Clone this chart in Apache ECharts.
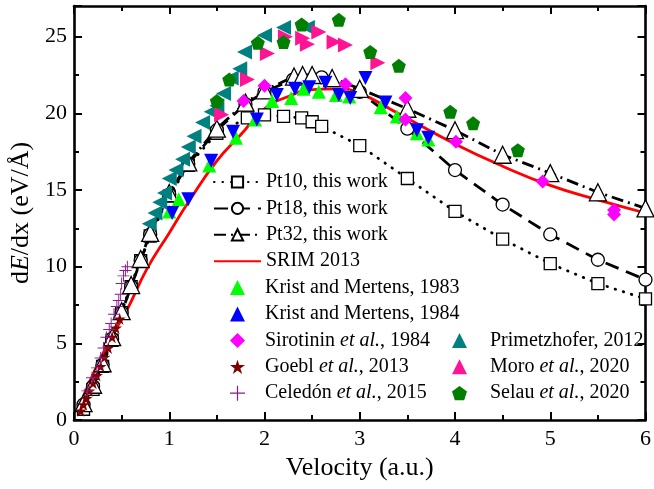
<!DOCTYPE html>
<html>
<head>
<meta charset="utf-8">
<script src="https://cdn.jsdelivr.net/npm/echarts@6/dist/echarts.min.js"></script>
<style>html,body{margin:0;padding:0;background:#fff;}#c{width:654px;height:489px;}</style>
</head>
<body>
<div id="c"></div>
<script>
// ---- data ----
const xTicks = [0, 1, 2, 3, 4, 5, 6];
const yTicks = [0, 5, 10, 15, 20, 25];

const pt10X = [0.1,0.2,0.3,0.4,0.5,0.6,0.7,0.8,1.0,1.2,1.5,1.82,2.0,2.2,2.39,2.5,2.6,3.0,3.5,4.0,4.5,5.0,5.5,6.0];
const pt10Y = [0.7,2.0,3.5,5.2,7.0,8.7,10.4,12.0,14.6,16.6,18.7,19.7,19.9,19.8,19.7,19.45,19.15,17.9,15.75,13.6,11.8,10.2,8.9,7.9];

const pt18X = [0.1,0.2,0.3,0.4,0.5,0.6,0.7,0.8,1.0,1.2,1.5,1.8,2.0,2.3,2.6,3.0,3.5,4.0,4.5,5.0,5.5,6.0];
const pt18Y = [1.0,2.2,3.6,5.3,7.0,8.7,10.4,12.1,14.7,16.7,18.9,20.6,21.4,22.2,22.35,21.4,19.0,16.3,14.05,12.1,10.45,9.15];

const pt32X = [0.1,0.2,0.3,0.4,0.5,0.6,0.7,0.8,1.0,1.2,1.5,1.8,2.0,2.31,2.4,2.5,2.71,3.0,3.5,4.0,4.5,5.0,5.5,6.0];
const pt32Y = [1.1,2.3,3.7,5.4,7.1,8.8,10.5,12.2,14.8,16.8,19.0,20.7,21.5,22.4,22.5,22.5,22.3,21.6,20.3,18.9,17.3,16.1,14.85,13.8];

const srimX = [0.05,0.2,0.4,0.55,0.77,1.0,1.2,1.5,1.75,2.0,2.25,2.5,2.75,3.0,3.4,4.0,4.5,5.0,5.5,6.0];
const srimY = [0.8,3.0,5.5,7.1,9.9,12.2,14.2,16.9,18.6,20.3,21.1,21.55,21.6,21.3,20.0,18.0,16.55,15.3,14.35,13.5];

const krist83X = [1.0,1.1,1.42,1.7,1.9,2.08,2.28,2.41,2.57,2.75,2.89,3.22,3.39,3.6,3.72];
const krist83Y = [13.6,14.4,16.6,18.4,19.6,20.8,21.0,21.6,21.4,21.2,21.1,20.4,19.8,18.7,18.3];

const krist84X = [1.03,1.2,1.44,1.67,1.92,2.13,2.32,2.47,2.64,2.78,2.9,3.06,3.27,3.6,3.72];
const krist84Y = [13.5,14.4,16.9,18.8,19.6,21.2,21.6,21.7,22.0,21.2,21.0,22.3,20.7,18.9,18.4];

const sirotX = [1.78,2.0,2.85,3.48,3.48,4.01,4.92,5.67,5.67];
const sirotY = [20.8,21.8,21.9,21.0,19.6,18.15,15.55,13.7,13.4];

const goeblX = [0.07,0.1,0.13,0.16,0.2,0.24,0.28,0.32,0.36,0.4,0.44,0.48];
const goeblY = [0.6,1.0,1.4,1.9,2.4,2.9,3.5,4.1,4.7,5.4,6.0,6.6];

const celedonX = [0.14,0.19,0.24,0.28,0.31,0.34,0.37,0.39,0.42,0.45,0.47,0.49,0.5,0.52,0.54,0.56];
const celedonY = [1.9,2.75,3.4,4.05,4.7,5.4,5.9,6.3,6.9,7.4,7.8,8.2,8.9,9.4,9.75,10.0];

const primX = [0.79,0.85,0.9,0.95,1.0,1.07,1.14,1.2,1.26,1.35,1.44,1.5,1.57,1.65,1.74,1.79,2.0,2.2,2.45];
const primY = [12.8,13.5,14.2,14.8,15.75,16.3,17.0,17.8,18.5,19.4,20.1,20.5,21.3,22.3,22.9,24.0,25.1,25.6,25.6];

const moroX = [1.55,1.82,2.03,2.22,2.4,2.45,2.57,2.73,2.85,3.19];
const moroY = [19.9,22.2,23.9,25.0,24.9,24.5,25.3,24.65,24.45,23.3];

const selauX = [1.5,1.63,1.93,2.2,2.39,2.78,3.11,3.41,3.95,4.19,4.66];
const selauY = [20.8,22.2,24.6,24.65,25.8,26.1,24.0,23.1,20.1,19.35,17.6];

const names = ['Pt10, this work','Pt18, this work','Pt32, this work','SRIM 2013',
  'Krist and Mertens, 1983','Krist and Mertens, 1984','Sirotinin et al., 1984',
  'Goebl et al., 2013','Celedón et al., 2015','Primetzhofer, 2012','Moro et al., 2020','Selau et al., 2020'];

// ---- chart ----
function zip(xs, ys){ return xs.map((x,i)=>[x, ys[i]]); }
const FONT = 'Liberation Serif';
const pentagon = 'path://M0,-1 L0.951,-0.309 L0.588,0.809 L-0.588,0.809 L-0.951,-0.309 Z';
const star = 'path://M0,-1 L0.2245,-0.309 L0.951,-0.309 L0.363,0.118 L0.588,0.809 L0,0.382 L-0.588,0.809 L-0.363,0.118 L-0.951,-0.309 L-0.2245,-0.309 Z';
const plus = 'path://M-0.08,-1 L0.08,-1 L0.08,-0.08 L1,-0.08 L1,0.08 L0.08,0.08 L0.08,1 L-0.08,1 L-0.08,0.08 L-1,0.08 L-1,-0.08 L-0.08,-0.08 Z';

function lineSeries(name, xs, ys, symbol, size, dash, cap){
  return {name, type:'line', data: zip(xs,ys), symbol, symbolSize:size, showAllSymbol:true,
    clip:false,
    lineStyle:{color:'#000', width:2.8, type:dash, cap:cap||'butt'},
    itemStyle:{color:'#fff', borderColor:'#000', borderWidth:1.3}, z:3};
}
function scat(name, xs, ys, symbol, size, color, rot){
  return {name, type:'scatter', data: zip(xs,ys), symbol, symbolSize:size, symbolRotate:rot||0,
    clip:false, itemStyle:{color, opacity:1}, z:4};
}

const axisCommon = {
  type:'value', splitLine:{show:false},
  axisLine:{show:true, onZero:false, lineStyle:{color:'#000', width:2.6}},
  axisTick:{show:true, inside:true, length:8, lineStyle:{color:'#000', width:2}},
  minorTick:{show:true, splitNumber:2, length:5, lineStyle:{color:'#000', width:2}},
};

const labelStyle = {color:'#000', fontFamily:FONT, fontSize:22};
const ROW = 26.4, ROW0 = 182, CH = 20;
function legText(padLeft){
  return {color:'#000', fontFamily:FONT, fontSize:20, padding:[0,0,0,padLeft],
    rich:{i:{fontStyle:'italic', fontFamily:FONT, fontSize:20, color:'#000'}}};
}
const legFmt = (n)=>n.replace('et al.', '{i|et al.}');

const option = {
  animation:false,
  backgroundColor:'#fff',
  grid:{left:74, right:6, top:6, bottom:69, containLabel:false},
  xAxis:[
    Object.assign({}, axisCommon, {position:'bottom', min:0, max:6, interval:1,
      axisLabel:Object.assign({margin:8, formatter:(v)=>xTicks.includes(v)?String(v):''}, labelStyle),
      name:'Velocity (a.u.)', nameLocation:'middle', nameGap:26,
      nameTextStyle:{color:'#000', fontFamily:FONT, fontSize:26}}),
    Object.assign({}, axisCommon, {position:'top', min:0, max:6, interval:1, axisLabel:{show:false}})
  ],
  yAxis:[
    Object.assign({}, axisCommon, {position:'left', min:0, max:27, interval:5,
      axisLabel:Object.assign({margin:7, showMaxLabel:false, formatter:(v)=>yTicks.includes(v)?String(v):''}, labelStyle),
      name:'d{i|E}/dx (eV/Å)', nameLocation:'middle', nameGap:36, nameRotate:90,
      nameTextStyle:{color:'#000', fontFamily:FONT, fontSize:26,
        rich:{i:{fontStyle:'italic', fontFamily:FONT, fontSize:26, color:'#000'}}}}),
    Object.assign({}, axisCommon, {position:'right', min:0, max:27, interval:5, axisLabel:{show:false}})
  ],
  legend:[
    {data:[{name:names[0]},{name:names[1]},{name:names[2]},
           {name:names[3], itemStyle:{color:'rgba(0,0,0,0)', borderWidth:0, opacity:0}}],
     orient:'vertical', left:213, top:ROW0-CH/2, padding:0, itemWidth:47, itemHeight:14,
     itemGap:ROW-CH, textStyle:legText(0), formatter:legFmt},
    {data:[{name:names[4]},{name:names[5], symbolRotate:180},{name:names[6]},{name:names[7]},{name:names[8]}],
     orient:'vertical', left:230, top:ROW0+4*ROW-CH/2, padding:0, itemWidth:15, itemHeight:15,
     itemGap:ROW-CH, textStyle:legText(15), formatter:legFmt},
    {data:[{name:names[9], symbolRotate:90},{name:names[10], symbolRotate:-90},{name:names[11]}],
     orient:'vertical', left:452, top:ROW0+6*ROW-CH/2, padding:0, itemWidth:15, itemHeight:15,
     itemGap:ROW-CH, textStyle:legText(18), formatter:legFmt}
  ],
  series:[
    lineSeries(names[0], pt10X, pt10Y, 'rect', 12, [0.5,8], 'round'),
    lineSeries(names[1], pt18X, pt18Y, 'circle', 13, [14,8]),
    lineSeries(names[2], pt32X, pt32Y, 'triangle', 17, [12,5,2,5]),
    {name:names[3], type:'line', data:zip(srimX,srimY), smooth:true, symbol:'none', clip:false,
      lineStyle:{color:'#ff0000', width:2.8}, itemStyle:{color:'#ff0000'}, z:3},
    scat(names[4], krist83X, krist83Y, 'triangle', 14, '#00ff00'),
    scat(names[5], krist84X, krist84Y, 'triangle', 14, '#0000ff', 180),
    scat(names[6], sirotX, sirotY, 'diamond', 14, '#ff00ff'),
    scat(names[7], goeblX, goeblY, star, 12, '#7f0000'),
    scat(names[8], celedonX, celedonY, plus, 12, '#8b1a8b'),
    scat(names[9], primX, primY, 'triangle', 15, '#008080', 90),
    scat(names[10], moroX, moroY, 'triangle', 15, '#ff1493', -90),
    scat(names[11], selauX, selauY, pentagon, 14, '#007f00'),
  ]
};
const chart = echarts.init(document.getElementById('c'), null, {renderer:'canvas'});
chart.setOption(option);
</script>
</body>
</html>
